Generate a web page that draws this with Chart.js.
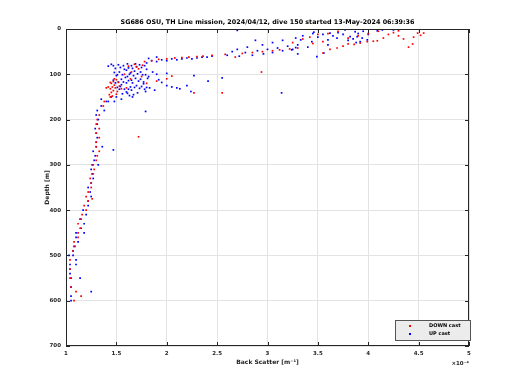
<!DOCTYPE html>
<html>
<head>
<meta charset="utf-8">
<script src="https://cdn.jsdelivr.net/npm/chart.js"></script>
<style>
  html, body { margin: 0; padding: 0; background: #fff; }
  #wrap { width: 520px; height: 390px; }
</style>
</head>
<body>
<div id="wrap"><canvas id="myChart"></canvas></div>
<script>
// back scatter in units of 1e-4 m^-1, depth in m
const downX = [1.08,1.15,1.10,1.05,1.00,1.04,1.04,1.04,1.07,1.09,1.08,1.12,1.12,1.14,1.12,1.15,1.16,1.20,1.18,1.22,1.26,1.20,1.22,1.25,1.25,1.24,1.27,1.28,1.27,1.30,1.31,1.33,1.30,1.30,1.33,1.30,1.72,1.33,1.30,1.31,1.33,1.37,1.38,1.44,
  1.43,1.45,1.47,1.44,1.46,1.48,1.45,1.47,1.50,1.52,1.49,1.51,1.53,1.55,1.42,1.44,1.46,1.50,1.40,1.48,
  1.65,1.72,1.68,1.78,1.85,1.92,2.00,2.08,2.15,2.22,2.30,2.36,1.75,1.90,2.00,2.05,1.80,1.60,2.27,2.55,2.94,
  2.45,2.58,2.68,2.75,2.85,2.95,3.05,3.12,3.22,3.30,3.25,3.35,3.42,
  3.55,3.62,3.69,3.75,3.80,3.86,3.92,3.99,4.05,4.09,4.15,4.20,4.25,4.30,4.35,4.40,4.44,4.49,4.55,4.52,4.10,4.00,3.90,3.60,3.70,3.50,4.30,4.45,3.80,3.45,3.55,
  1.62,1.70,1.76,1.58,1.64];
const downDepth = [600,590,580,570,560,550,530,510,490,480,470,460,450,440,430,420,410,400,390,380,375,370,360,350,340,330,320,310,300,290,280,270,260,250,240,230,238,220,210,200,190,170,160,150,
  145,140,136,132,128,124,120,116,112,118,130,138,126,132,128,118,148,144,130,110,
  95,88,78,72,70,67,66,64,63,62,61,60,105,115,110,104,120,130,141,141,95,
  58,56,62,54,52,50,48,46,44,42,30,22,18,
  53,45,42,38,33,34,31,28,27,26,20,12,8,15,22,40,33,9,9,14,5,10,15,10,5,12,4,18,20,32,28,
  82,84,80,100,110];

const upX = [1.05,1.05,1.25,1.05,1.14,1.05,1.04,1.04,1.04,1.10,1.10,1.03,1.07,1.07,1.08,1.12,1.10,1.10,1.18,1.15,1.18,1.14,1.20,1.17,1.22,1.22,1.25,1.24,1.22,1.25,1.27,1.26,1.25,1.26,1.32,1.28,1.29,1.27,1.30,1.36,1.30,1.31,1.30,1.29,1.31,1.32,1.30,1.31,1.38,1.35,1.42,1.48,1.45,1.50,1.35,1.79,1.47,
  1.47,1.49,1.48,1.50,1.47,1.49,1.51,
  1.52,1.54,1.53,1.51,1.55,1.52,1.54,1.53,1.56,
  1.57,1.58,1.56,1.59,1.57,1.55,1.58,1.60,
  1.61,1.62,1.60,1.63,1.61,1.62,1.60,1.64,1.62,1.61,1.63,
  1.65,1.66,1.64,1.67,1.65,1.66,1.68,1.65,1.67,
  1.69,1.70,1.68,1.71,1.69,1.72,1.70,1.73,1.71,
  1.73,1.75,1.74,1.76,1.74,1.77,1.75,1.78,
  1.78,1.80,1.79,1.81,1.77,1.80,
  1.42,1.45,1.40,1.55,1.66,
  1.82,1.86,1.90,1.95,2.00,2.05,1.83,1.88,1.79,2.10,2.20,2.27,2.41,2.24,2.13,2.55,3.14,1.92,2.00,
  1.80,1.85,1.90,1.95,2.00,2.05,2.10,2.15,2.20,2.25,2.30,2.35,1.82,1.90,2.40,2.45,
  2.60,2.65,2.72,2.78,2.85,2.90,2.96,3.00,3.05,3.10,3.15,3.20,3.25,3.30,2.70,2.80,2.95,3.05,3.15,3.28,3.35,3.45,2.88,2.70,
  3.24,3.28,3.33,3.44,3.49,3.56,3.46,3.62,3.77,3.87,3.89,3.94,3.99,3.82,4.09,4.14,4.25,3.60,3.69,
  3.50,3.55,3.65,3.70,3.75,3.80,3.85,3.90,3.95,4.00,3.92,3.88,3.60,3.40,3.30];
const upDepth = [600,590,580,570,550,550,540,530,520,520,510,500,500,490,480,470,460,450,450,440,430,420,410,400,390,380,370,360,350,340,330,320,310,300,300,290,280,270,260,260,250,240,230,220,210,200,190,180,180,170,160,160,150,150,155,182,267,
  81,87,96,103,113,119,129,
  79,85,95,101,111,117,127,133,143,
  81,89,101,107,117,123,133,139,
  77,86,91,100,105,114,119,128,133,142,147,
  81,87,97,103,113,119,129,135,145,
  77,83,93,99,109,115,125,131,141,
  79,85,95,101,111,117,127,133,
  81,89,101,109,121,129,
  82,78,160,155,150,
  105,95,100,118,125,128,130,135,138,130,125,103,115,138,132,108,141,112,98,
  75,70,72,68,70,66,68,66,64,66,64,62,65,62,62,60,
  58,50,60,52,58,48,55,45,52,42,48,38,45,35,45,40,35,30,25,20,15,10,25,3,
  46,41,24,28,61,53,7,9,2,6,17,20,24,17,4,2,2,24,20,
  18,12,15,8,12,25,22,10,5,12,28,30,35,40,55];

const xTicks = [1, 1.5, 2, 2.5, 3, 3.5, 4, 4.5, 5];
const yTicks = [0, 100, 200, 300, 400, 500, 600, 700];

const downPts = downX.map((v, i) => ({ x: v, y: downDepth[i] }));
const upPts = upX.map((v, i) => ({ x: v, y: upDepth[i] }));

const tickFont = { family: 'DejaVu Sans', size: 5.5, weight: 'bold' };

const extras = {
  id: 'extras',
  afterDraw(chart) {
    const ctx = chart.ctx;
    const a = chart.chartArea;
    ctx.save();
    // box
    ctx.strokeStyle = '#262626';
    ctx.lineWidth = 1;
    ctx.strokeRect(a.left + 0.5, a.top + 0.5, a.right - a.left - 1, a.bottom - a.top - 1);
    // inside tick marks
    const xs = chart.scales.x, ys = chart.scales.y;
    ctx.beginPath();
    xTicks.forEach(t => {
      const px = Math.round(xs.getPixelForValue(t)) + 0.5;
      ctx.moveTo(px, a.bottom); ctx.lineTo(px, a.bottom - 4);
      ctx.moveTo(px, a.top); ctx.lineTo(px, a.top + 4);
    });
    yTicks.forEach(t => {
      const py = Math.round(ys.getPixelForValue(t)) + 0.5;
      ctx.moveTo(a.left, py); ctx.lineTo(a.left + 4, py);
      ctx.moveTo(a.right, py); ctx.lineTo(a.right - 4, py);
    });
    ctx.stroke();
    // title
    ctx.fillStyle = '#000';
    ctx.textAlign = 'center';
    ctx.textBaseline = 'alphabetic';
    ctx.font = 'bold 6.4px "DejaVu Sans"';
    ctx.fillText('SG686 OSU, TH Line mission, 2024/04/12, dive 150 started 13-May-2024 06:39:36', (a.left + a.right) / 2, 24);
    // axis titles
    ctx.fillStyle = '#262626';
    ctx.font = 'bold 6px "DejaVu Sans"';
    ctx.fillText('Back Scatter [m\u207B\u00B9]', (a.left + a.right) / 2, 364);
    ctx.save();
    ctx.translate(49, (a.top + a.bottom) / 2);
    ctx.rotate(-Math.PI / 2);
    ctx.fillText('Depth [m]', 0, 0);
    ctx.restore();
    // exponent
    ctx.textAlign = 'right';
    ctx.font = 'bold 5.5px "DejaVu Sans"';
    ctx.fillText('\u00D710\u207B\u2074', a.right, 365);
    // legend
    const lx = 395, ly = 320, lw = 76, lh = 21;
    ctx.fillStyle = '#ececec';
    ctx.fillRect(lx, ly, lw, lh);
    ctx.strokeStyle = '#555';
    ctx.strokeRect(lx + 0.5, ly + 0.5, lw - 1, lh - 1);
    ctx.fillStyle = 'rgb(255,0,0)';
    ctx.fillRect(409, 325, 2, 2);
    ctx.fillStyle = 'rgb(0,0,255)';
    ctx.fillRect(409, 333, 2, 2);
    ctx.fillStyle = '#000';
    ctx.textAlign = 'left';
    ctx.textBaseline = 'middle';
    ctx.font = 'bold 5px "DejaVu Sans"';
    ctx.fillText('DOWN cast', 429, 326);
    ctx.fillText('UP cast', 429, 334);
    ctx.restore();
  }
};

new Chart(document.getElementById('myChart'), {
  type: 'scatter',
  data: {
    datasets: [
      { label: 'DOWN cast', data: downPts, backgroundColor: 'rgb(255,0,0)', borderColor: 'rgb(255,0,0)',
        pointStyle: 'rect', pointRadius: 1.2, borderWidth: 0 },
      { label: 'UP cast', data: upPts, backgroundColor: 'rgb(0,0,255)', borderColor: 'rgb(0,0,255)',
        pointStyle: 'rect', pointRadius: 1.2, borderWidth: 0 }
    ]
  },
  options: {
    responsive: true,
    maintainAspectRatio: false,
    animation: false,
    layout: { padding: { left: 0, right: 51, top: 29, bottom: 0 } },
    plugins: { legend: { display: false }, title: { display: false }, tooltip: { enabled: false } },
    scales: {
      x: {
        type: 'linear', min: 1, max: 5,
        afterFit: s => { s.height = 44; },
        afterBuildTicks: s => { s.ticks = xTicks.map(v => ({ value: v })); },
        grid: { color: '#e3e3e3', drawTicks: false },
        border: { display: false },
        ticks: { color: '#262626', font: tickFont, padding: 4, maxRotation: 0,
          callback: v => String(v) }
      },
      y: {
        type: 'linear', min: 0, max: 700, reverse: true,
        afterFit: s => { s.width = 66; },
        afterBuildTicks: s => { s.ticks = yTicks.map(v => ({ value: v })); },
        grid: { color: '#e3e3e3', drawTicks: false },
        border: { display: false },
        ticks: { color: '#262626', font: tickFont, padding: 5 }
      }
    }
  },
  plugins: [extras]
});
</script>
</body>
</html>
